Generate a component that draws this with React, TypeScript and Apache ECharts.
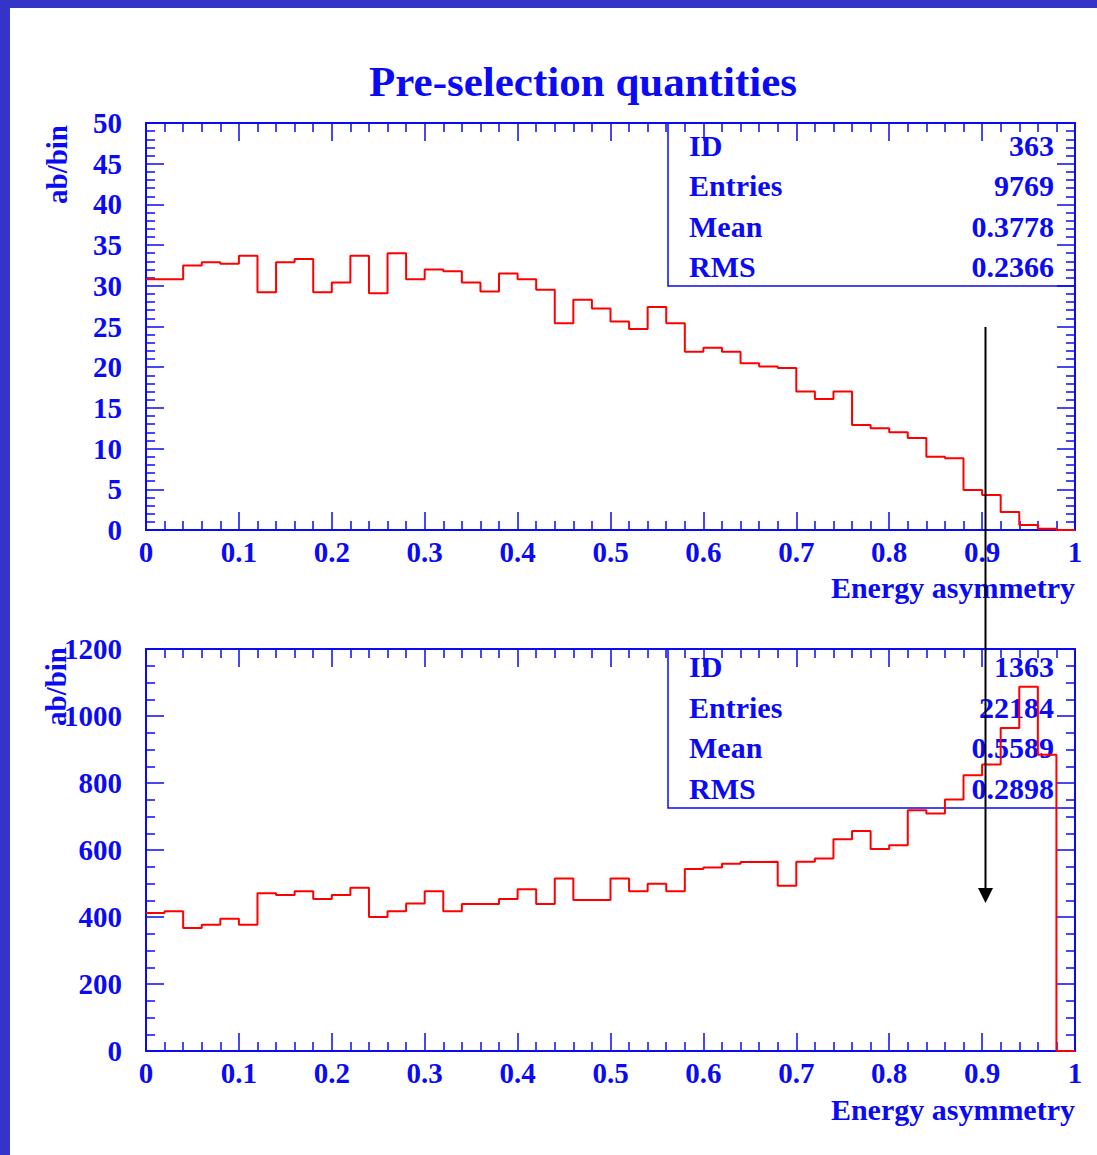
import React, { useEffect, useRef } from "react";
import * as echarts from "echarts";

const binWidth = 0.02;
const topCounts = [30.8, 30.8, 32.5, 32.9, 32.7, 33.7, 29.2, 32.9, 33.3, 29.2, 30.4, 33.7, 29.1, 34.0, 30.8, 32.0, 31.8, 30.4, 29.3, 31.5, 30.8, 29.5, 25.4, 28.3, 27.2, 25.6, 24.7, 27.4, 25.4, 21.9, 22.4, 21.9, 20.5, 20.1, 19.9, 17.0, 16.1, 17.0, 12.9, 12.5, 12.0, 11.3, 9.0, 8.8, 4.9, 4.3, 2.2, 0.6, 0.15, 0];
const bottomCounts = [412, 417, 367, 377, 395, 377, 471, 466, 477, 454, 466, 487, 400, 417, 440, 477, 417, 439, 439, 454, 483, 439, 515, 451, 451, 515, 477, 499, 477, 543, 548, 559, 564, 565, 493, 565, 575, 632, 657, 603, 614, 719, 709, 751, 823, 855, 964, 1087, 884, 0];

const statLabels = ["ID", "Entries", "Mean", "RMS"];
const topStats = ["363", "9769", "0.3778", "0.2366"];
const bottomStats = ["1363", "22184", "0.5589", "0.2898"];

const titleText = "Pre-selection quantities";
const xTitle = "Energy asymmetry";
const yTitle = "ab/bin";

const BLUE = "#0a0af5";
const FONT = '"Liberation Serif", "Times New Roman", serif';

function stepData(counts: number[]) {
  const pts = counts.map((v, i) => [+(i * binWidth).toFixed(2), v]);
  pts.push([1, counts[counts.length - 1]]);
  return pts;
}

function axisX(gridIndex: number, position: string, labels: boolean) {
  return {
    type: "value",
    gridIndex,
    position,
    min: 0,
    max: 1,
    interval: 0.1,
    axisLine: { show: true, onZero: false, lineStyle: { color: BLUE, width: 2 } },
    axisTick: { show: true, inside: true, length: 18, lineStyle: { color: BLUE, width: 1.5 } },
    minorTick: { show: true, splitNumber: 5, length: 9, lineStyle: { color: BLUE, width: 1.5 } },
    splitLine: { show: false },
    axisLabel: {
      show: labels,
      color: BLUE,
      fontFamily: FONT,
      fontWeight: "bold",
      fontSize: 29,
      margin: 7,
      formatter: (v: number) => String(+v.toFixed(1)),
    },
  };
}

function axisY(gridIndex: number, position: string, labels: boolean, max: number, interval: number, minorSplit: number) {
  return {
    type: "value",
    gridIndex,
    position,
    min: 0,
    max,
    interval,
    axisLine: { show: true, onZero: false, lineStyle: { color: BLUE, width: 2 } },
    axisTick: { show: true, inside: true, length: 18, lineStyle: { color: BLUE, width: 1.5 } },
    minorTick: { show: true, splitNumber: minorSplit, length: 9, lineStyle: { color: BLUE, width: 1.5 } },
    splitLine: { show: false },
    axisLabel: {
      show: labels,
      color: BLUE,
      fontFamily: FONT,
      fontWeight: "bold",
      fontSize: 29,
      margin: 24,
      formatter: (v: number) => String(v),
    },
  };
}

function statsBox(top: number, bottom: number, values: string[], rowY: number[]) {
  const els: any[] = [
    {
      type: "rect",
      shape: { x: 668, y: top, width: 407, height: bottom - top },
      style: { fill: "none", stroke: BLUE, lineWidth: 1.5 },
      silent: true,
    },
  ];
  statLabels.forEach((lab, i) => {
    els.push({
      type: "text",
      x: 689,
      y: rowY[i],
      style: { text: lab, fill: BLUE, font: `bold 30px ${FONT}`, align: "left", verticalAlign: "middle" },
    });
    els.push({
      type: "text",
      x: 1054,
      y: rowY[i],
      style: { text: values[i], fill: BLUE, font: `bold 30px ${FONT}`, align: "right", verticalAlign: "middle" },
    });
  });
  return els;
}

export default function App() {
  const ref = useRef<HTMLDivElement>(null);
  useEffect(() => {
    if (!ref.current) return;
    const chart = echarts.init(ref.current, null, { renderer: "svg" });
    const option: any = {
      animation: false,
      backgroundColor: "#ffffff",
      grid: [
        { left: 146, top: 123, width: 929, height: 407 },
        { left: 146, top: 649, width: 929, height: 402 },
      ],
      xAxis: [axisX(0, "bottom", true), axisX(0, "top", false), axisX(1, "bottom", true), axisX(1, "top", false)],
      yAxis: [
        axisY(0, "left", true, 50, 5, 5),
        axisY(0, "right", false, 50, 5, 5),
        axisY(1, "left", true, 1200, 200, 4),
        axisY(1, "right", false, 1200, 200, 4),
      ],
      series: [
        {
          type: "line",
          xAxisIndex: 0,
          yAxisIndex: 0,
          step: "end",
          symbol: "none",
          data: stepData(topCounts),
          lineStyle: { color: "#ff0000", width: 2 },
          z: 5,
        },
        {
          type: "line",
          xAxisIndex: 2,
          yAxisIndex: 2,
          step: "end",
          symbol: "none",
          data: stepData(bottomCounts),
          lineStyle: { color: "#ff0000", width: 2 },
          z: 5,
        },
      ],
      graphic: [
        { type: "rect", shape: { x: 0, y: 0, width: 1097, height: 8 }, style: { fill: "#3434c8" }, silent: true },
        { type: "rect", shape: { x: 0, y: 0, width: 10, height: 1155 }, style: { fill: "#3434c8" }, silent: true },
        {
          type: "text",
          x: 583,
          y: 81,
          style: { text: titleText, fill: BLUE, font: `bold 43px ${FONT}`, align: "center", verticalAlign: "middle" },
        },
        {
          type: "text",
          x: 57,
          y: 125,
          rotation: Math.PI / 2,
          style: { text: yTitle, fill: BLUE, font: `bold 29px ${FONT}`, align: "right", verticalAlign: "middle" },
        },
        {
          type: "text",
          x: 56,
          y: 647,
          rotation: Math.PI / 2,
          style: { text: yTitle, fill: BLUE, font: `bold 29px ${FONT}`, align: "right", verticalAlign: "middle" },
        },
        {
          type: "text",
          x: 1075,
          y: 587,
          style: { text: xTitle, fill: BLUE, font: `bold 30px ${FONT}`, align: "right", verticalAlign: "middle" },
        },
        {
          type: "text",
          x: 1075,
          y: 1109,
          style: { text: xTitle, fill: BLUE, font: `bold 30px ${FONT}`, align: "right", verticalAlign: "middle" },
        },
        ...statsBox(123, 286, topStats, [145, 185, 226, 266]),
        ...statsBox(649, 808, bottomStats, [666, 707, 747, 788]),
        {
          type: "line",
          z: 100,
          shape: { x1: 985.5, y1: 327, x2: 985.5, y2: 890 },
          style: { stroke: "#000000", lineWidth: 2 },
          silent: true,
        },
        {
          type: "polygon",
          z: 100,
          shape: { points: [[978, 888], [993, 888], [985.5, 903]] },
          style: { fill: "#000000" },
          silent: true,
        },
      ],
    };
    chart.setOption(option);
    return () => chart.dispose();
  }, []);
  return (
    <div
      ref={ref}
      style={{ position: "fixed", left: 0, top: 0, width: 1097, height: 1155, background: "#ffffff" }}
    />
  );
}
